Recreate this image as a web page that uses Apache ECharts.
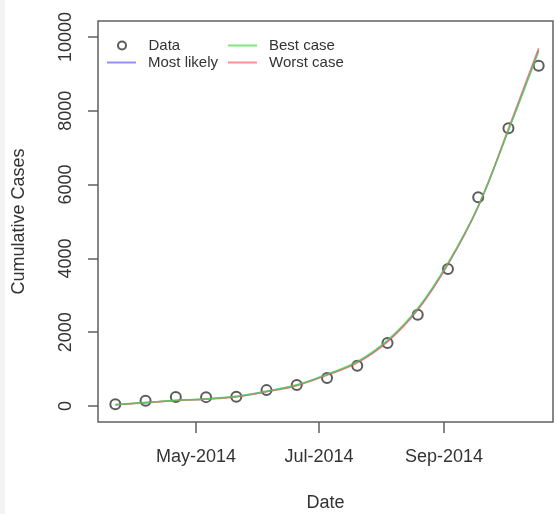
<!DOCTYPE html>
<html>
<head>
<meta charset="utf-8">
<script src="https://cdn.jsdelivr.net/npm/echarts@6/dist/echarts.min.js"></script>
<style>
  html, body { margin: 0; padding: 0; background: #fff; }
  #chart { width: 556px; height: 514px; }
</style>
</head>
<body>
<div id="chart"></div>
<script>
// Observation dates (every 15 days) and cumulative case counts
const dates = ['2014-03-22', '2014-04-06', '2014-04-21', '2014-05-06', '2014-05-21',
               '2014-06-05', '2014-06-20', '2014-07-05', '2014-07-20', '2014-08-04',
               '2014-08-19', '2014-09-03', '2014-09-18', '2014-10-03', '2014-10-18'];
const observed = [49, 140, 245, 240, 250, 430, 570, 760, 1090, 1710, 2470, 3710, 5660, 7530, 9220];

// Model projections on the same dates
const mostLikely = [35, 92, 150, 190, 255, 395, 565, 850, 1190, 1760, 2620, 3850, 5400, 7480, 9650];
const bestCase   = [38, 95, 152, 193, 260, 402, 572, 862, 1205, 1785, 2650, 3880, 5420, 7470, 9600];
const worstCase  = [33, 88, 146, 186, 248, 385, 552, 835, 1170, 1740, 2600, 3840, 5410, 7520, 9700];

// Axis ticks
const xTickDates  = ['2014-05-01', '2014-07-01', '2014-09-01'];
const xTickLabels = ['May-2014', 'Jul-2014', 'Sep-2014'];
const yTicks = [0, 2000, 4000, 6000, 8000, 10000];

// Dates are placed on a numeric axis as UTC milliseconds
const ts = d => new Date(d).getTime();
const DAY = 86400000;
const xTickValues = xTickDates.map(ts);
const pairs = vals => dates.map((d, i) => [ts(d), vals[i]]);

const FONT = 'Liberation Sans';
const TXT = '#333';
const BLUE = 'rgba(70,70,255,0.6)';
const RED = 'rgba(255,70,70,0.6)';
const GREEN = 'rgba(70,220,70,0.7)';

// One legend block per entry so each key can have its own glyph size
function legendEntry(name, left, top, iconOpts) {
  return Object.assign({
    orient: 'horizontal', left: left, top: top, padding: 0,
    itemWidth: 29,
    textStyle: { fontFamily: FONT, fontSize: 15, color: TXT, padding: [0, 0, 0, 7] },
    data: [name]
  }, iconOpts);
}

const chart = echarts.init(document.getElementById('chart'), null, { renderer: 'canvas' });

chart.setOption({
  backgroundColor: '#fff',
  animation: false,
  textStyle: { fontFamily: FONT },
  graphic: [{
    type: 'rect', left: 0, top: 0, z: -10,
    shape: { width: 5, height: 514 },
    style: { fill: '#f3f3f3' }
  }],
  grid: {
    left: 98, top: 21, right: 3, bottom: 92,
    containLabel: false,
    outerBoundsMode: 'none',
    show: true, borderColor: '#606060', borderWidth: 1.5,
    backgroundColor: 'transparent'
  },
  legend: [
    legendEntry('Data', 117, 38, { icon: 'circle', itemHeight: 8,
      itemStyle: { color: 'rgba(0,0,0,0)', borderColor: '#333', borderWidth: 2 } }),
    legendEntry('Most likely', 107, 55, { icon: 'rect', itemHeight: 2,
      itemStyle: { color: BLUE, borderWidth: 0 } }),
    legendEntry('Best case', 228, 38, { icon: 'rect', itemHeight: 2,
      itemStyle: { color: GREEN, borderWidth: 0 } }),
    legendEntry('Worst case', 228, 55, { icon: 'rect', itemHeight: 2,
      itemStyle: { color: RED, borderWidth: 0 } })
  ],
  xAxis: {
    type: 'value',
    min: ts('2014-05-01') - 48.6 * DAY,
    max: ts('2014-09-01') + 54.1 * DAY,
    name: 'Date',
    nameLocation: 'middle',
    nameGap: 72,
    nameTextStyle: { fontFamily: FONT, fontSize: 18, color: TXT },
    axisLine: { show: false, onZero: false },
    splitLine: { show: false },
    axisTick: { show: true, inside: false, customValues: xTickValues, length: 11, lineStyle: { color: '#606060', width: 1.5 } },
    axisLabel: {
      customValues: xTickValues,
      margin: 26,
      fontFamily: FONT, fontSize: 18, color: TXT,
      formatter: v => xTickLabels[xTickValues.indexOf(v)] || ''
    }
  },
  yAxis: {
    type: 'value',
    min: -434, max: 10434,
    name: 'Cumulative Cases',
    nameLocation: 'middle',
    nameGap: 70,
    nameRotate: 90,
    nameTextStyle: { fontFamily: FONT, fontSize: 18, color: TXT },
    axisLine: { show: false, onZero: false },
    splitLine: { show: false },
    axisTick: { show: true, inside: false, customValues: yTicks, length: 10, lineStyle: { color: '#606060', width: 1.5 } },
    axisLabel: {
      customValues: yTicks,
      rotate: 90,
      margin: 23,
      fontFamily: FONT, fontSize: 18, color: TXT,
      formatter: v => String(v)
    }
  },
  series: [{
    name: 'Data',
    type: 'scatter',
    data: pairs(observed),
    symbol: 'circle',
    symbolSize: 10,
    itemStyle: { color: 'rgba(0,0,0,0)', borderColor: '#333', borderWidth: 2 },
    z: 2
  }, {
    name: 'Most likely',
    type: 'line',
    data: pairs(mostLikely),
    smooth: 0.4,
    showSymbol: false, symbol: 'none',
    lineStyle: { color: BLUE, width: 1.6 },
    itemStyle: { color: BLUE },
    z: 3
  }, {
    name: 'Worst case',
    type: 'line',
    data: pairs(worstCase),
    smooth: 0.4,
    showSymbol: false, symbol: 'none',
    lineStyle: { color: RED, width: 1.6 },
    itemStyle: { color: RED },
    z: 4
  }, {
    name: 'Best case',
    type: 'line',
    data: pairs(bestCase),
    smooth: 0.4,
    showSymbol: false, symbol: 'none',
    lineStyle: { color: GREEN, width: 1.6 },
    itemStyle: { color: GREEN },
    z: 5
  }]
});
</script>
</body>
</html>
